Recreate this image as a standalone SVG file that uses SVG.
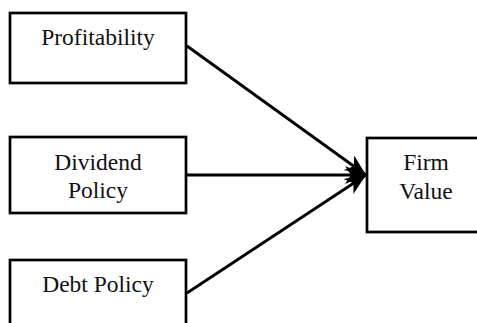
<svg xmlns="http://www.w3.org/2000/svg" width="477" height="323" viewBox="0 0 477 323">
<style>
.box{fill:#fff;stroke:#000;stroke-width:2.7}
.lbl{font-family:"Liberation Serif","Times New Roman",serif;font-size:23.5px;fill:#111;text-anchor:middle}
.conn{stroke:#000;stroke-width:2.8;fill:none;marker-end:url(#ah)}
</style>
<defs>
<marker id="ah" markerUnits="userSpaceOnUse" markerWidth="24" markerHeight="24" viewBox="0 0 24 24" refX="21" refY="12" orient="auto">
<path d="M0,3 L21,12 L0,21 L6,12 Z" fill="#000"/>
</marker>
</defs>
<rect width="477" height="323" fill="#fff"/>
<g id="connectors">
<line class="conn" x1="187" y1="46" x2="366" y2="175"/>
<line class="conn" x1="187" y1="175" x2="366" y2="175"/>
<line class="conn" x1="187" y1="293" x2="366" y2="175"/>
</g>
<g id="profitability">
<rect class="box" x="10" y="13" width="176" height="70"/>
<text class="lbl" x="98" y="45">Profitability</text>
</g>
<g id="dividend">
<rect class="box" x="10" y="137" width="176" height="76"/>
<text class="lbl" x="98" y="170">Dividend</text>
<text class="lbl" x="98" y="198">Policy</text>
</g>
<g id="debt">
<rect class="box" x="10" y="260" width="176" height="80"/>
<text class="lbl" x="98" y="292">Debt Policy</text>
</g>
<g id="firmvalue">
<rect class="box" x="367" y="138" width="120" height="94"/>
<text class="lbl" x="426" y="170">Firm</text>
<text class="lbl" x="426" y="199">Value</text>
</g>
</svg>
